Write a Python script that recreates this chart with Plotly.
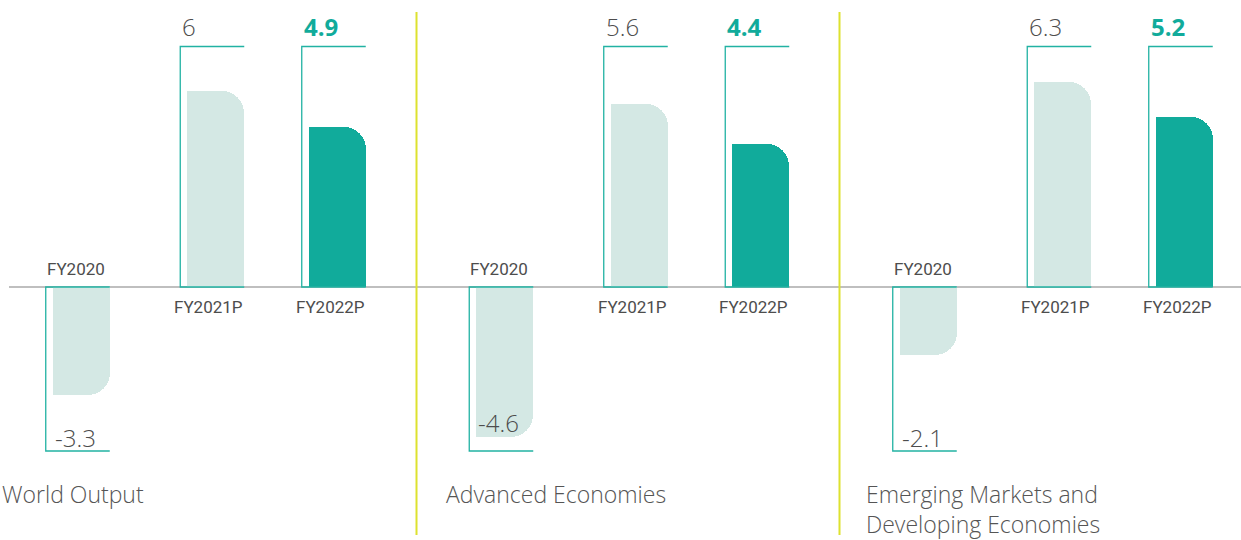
import plotly.graph_objects as go

# data
panels = ["World Output", "Advanced Economies", "Emerging Markets and<br>Developing Economies"]
periods = ["FY2020", "FY2021P", "FY2022P"]
world_output = [-3.3, 6, 4.9]
advanced_economies = [-4.6, 5.6, 4.4]
emerging_economies = [-2.1, 6.3, 5.2]
highlight_period = "FY2022P"

# layout (x axis is in pixel-like units, y axis in growth %)
PX_PER_UNIT = 32.6
ZERO_PX = 287
WIDTH, HEIGHT = 1241, 540
PANEL_STEP = 423.5
BAR_OFFSETS = [52.75, 187.25, 308.75]
BAR_W = 57
BRACKET_GAP = 7
CORNER = 22
BRACKET_TOP = (ZERO_PX - 46.5) / PX_PER_UNIT
BRACKET_BOTTOM = -(451 - ZERO_PX) / PX_PER_UNIT
TITLE_X = [0, 444, 864]
TITLE_TOP_PX = 476
DIVIDER_X = [416.5, 839.5]

LIGHT = "#d4e8e4"
DARK = "#11ab9b"
LINE = "#22b2a3"
GREY_TEXT = "#4d4d4d"
DIVIDER = "#dde22f"
FONT = "Open Sans"
LABEL_FONT = "Roboto"

series = [world_output, advanced_economies, emerging_economies]

xs, ys, colors = [], [], []
for p, vals in enumerate(series):
    for c, v in enumerate(vals):
        xs.append(p * PANEL_STEP + BAR_OFFSETS[c])
        ys.append(v)
        colors.append(DARK if periods[c] == highlight_period else LIGHT)

fig = go.Figure()

# full bars with rounded corners
fig.add_trace(go.Bar(
    x=xs, y=ys, width=BAR_W, offset=0,
    marker=dict(color=colors, line=dict(width=0), cornerradius=CORNER),
    hoverinfo="skip", showlegend=False,
))
# square off the left corner
fig.add_trace(go.Bar(
    x=xs, y=ys, width=BAR_W - CORNER, offset=0,
    marker=dict(color=colors, line=dict(width=0)),
    hoverinfo="skip", showlegend=False,
))

# brackets
bx, by = [], []
for x, v in zip(xs, ys):
    left = x - BRACKET_GAP
    right = x + BAR_W
    y1, y2 = (BRACKET_TOP, 0) if v > 0 else (0, BRACKET_BOTTOM)
    bx += [right, left, left, right, None]
    by += [y1, y1, y2, y2, None]
fig.add_trace(go.Scatter(
    x=bx, y=by, mode="lines", line=dict(color=LINE, width=1.3),
    hoverinfo="skip", showlegend=False,
))

annotations = []
for i, (x, v) in enumerate(zip(xs, ys)):
    period = periods[i % len(periods)]
    hl = period == highlight_period
    left = x - BRACKET_GAP
    if v > 0:
        annotations.append(dict(
            x=left, y=BRACKET_TOP, xref="x", yref="y", text=f"{v:g}",
            xanchor="left", yanchor="bottom", yshift=2, showarrow=False,
            font=dict(family=FONT, size=24, color=DARK if hl else GREY_TEXT,
                      weight=700 if hl else 300),
        ))
        annotations.append(dict(
            x=x + BAR_W + 1, y=-20 / PX_PER_UNIT, xref="x", yref="y", text=period,
            xanchor="right", yanchor="middle", showarrow=False,
            font=dict(family=LABEL_FONT, size=17, color=GREY_TEXT),
        ))
    else:
        # label sits above the bracket floor, or just above the bar end if the bar reaches it
        if v > BRACKET_BOTTOM + 30 / PX_PER_UNIT:
            ly = BRACKET_BOTTOM + 14 / PX_PER_UNIT
        else:
            ly = v + 14 / PX_PER_UNIT
        annotations.append(dict(
            x=x, y=ly, xref="x", yref="y",
            text=f"{v:g}", xanchor="left", yanchor="middle", showarrow=False,
            font=dict(family=FONT, size=24, color=GREY_TEXT, weight=300),
        ))
        annotations.append(dict(
            x=left - 1, y=18 / PX_PER_UNIT, xref="x", yref="y", text=period,
            xanchor="left", yanchor="middle", showarrow=False,
            font=dict(family=LABEL_FONT, size=17, color=GREY_TEXT),
        ))

for tx, name in zip(TITLE_X, panels):
    annotations.append(dict(
        x=tx, y=1 - TITLE_TOP_PX / HEIGHT, xref="x", yref="paper", text=name,
        xanchor="left", yanchor="top", align="left", showarrow=False,
        font=dict(family=FONT, size=23, color="#555555", weight=300),
    ))

shapes = [dict(
    type="line", xref="x", yref="y", x0=9, x1=WIDTH, y0=0, y1=0,
    line=dict(color="#aaaaaa", width=1.5), layer="below",
)]
for dx in DIVIDER_X:
    shapes.append(dict(
        type="line", xref="x", yref="paper", x0=dx, x1=dx,
        y0=1 - 535 / HEIGHT, y1=1 - 12 / HEIGHT,
        line=dict(color=DIVIDER, width=2),
    ))

fig.update_layout(
    width=WIDTH, height=HEIGHT,
    margin=dict(l=0, r=0, t=0, b=0),
    paper_bgcolor="white", plot_bgcolor="white",
    barmode="overlay", bargap=0,
    xaxis=dict(range=[0, WIDTH], visible=False, fixedrange=True),
    yaxis=dict(range=[-(HEIGHT - ZERO_PX) / PX_PER_UNIT, ZERO_PX / PX_PER_UNIT],
               visible=False, fixedrange=True),
    annotations=annotations,
    shapes=shapes,
)

fig.write_html(
    "out.html",
    config={"displayModeBar": False},
    post_script="document.body.style.margin='0';",
)
